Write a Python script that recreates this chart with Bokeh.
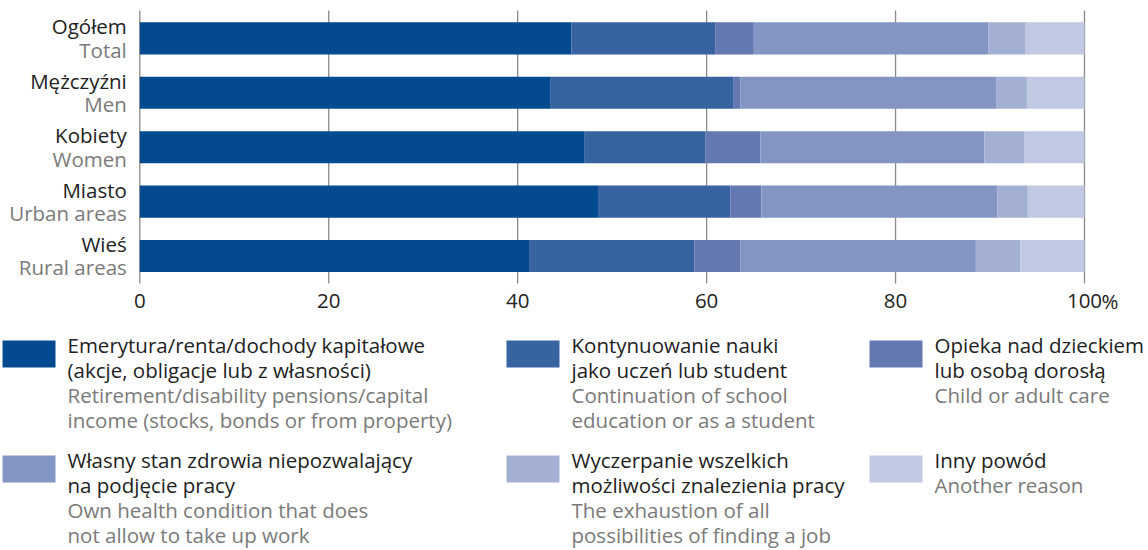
import numpy as np
from bokeh.plotting import figure
from bokeh.models import ColumnDataSource, Range1d
from bokeh.core.properties import value
from bokeh.embed import file_html
from bokeh.resources import INLINE

# ---------------- data ----------------
categories_pl = ["Ogółem", "Mężczyźni", "Kobiety", "Miasto", "Wieś"]
categories_en = ["Total", "Men", "Women", "Urban areas", "Rural areas"]

retirement = [45.7, 43.5, 47.1, 48.5, 41.2]
education = [15.2, 19.3, 12.8, 14.0, 17.5]
care = [4.1, 0.8, 5.8, 3.3, 4.9]
health = [24.8, 27.1, 23.7, 25.0, 24.9]
exhaustion = [3.9, 3.2, 4.2, 3.2, 4.7]
other = [6.3, 6.1, 6.4, 6.0, 6.8]

series_keys = ["retirement", "education", "care", "health", "exhaustion", "other"]
series_pl = [
    ["Emerytura/renta/dochody kapitałowe", "(akcje, obligacje lub z własności)"],
    ["Kontynuowanie nauki", "jako uczeń lub student"],
    ["Opieka nad dzieckiem", "lub osobą dorosłą"],
    ["Własny stan zdrowia niepozwalający", "na podjęcie pracy"],
    ["Wyczerpanie wszelkich", "możliwości znalezienia pracy"],
    ["Inny powód"],
]
series_en = [
    ["Retirement/disability pensions/capital", "income (stocks, bonds or from property)"],
    ["Continuation of school", "education or as a student"],
    ["Child or adult care"],
    ["Own health condition that does", "not allow to take up work"],
    ["The exhaustion of all", "possibilities of finding a job"],
    ["Another reason"],
]
x_ticks = [0, 20, 40, 60, 80, 100]
x_tick_labels = ["0", "20", "40", "60", "80", "100"]
x_unit = "%"

# ---------------- style / layout (pixels) ----------------
colors = ["#034a90", "#3764a0", "#6479b1", "#8396c3", "#a3b0d4", "#c1c9e2"]
FONT = "Open Sans"
FS = "20.5px"
DARK = "#222222"
GREY = "#7a7a7a"

W, H = 1148, 550
PX0, PX100 = 139.3, 1084.0          # screen x of 0 and 100
ROW0, ROWSTEP = 37.9, 54.4          # screen y of first bar centre, bar spacing
GRID_TOP, GRID_BOT = 10, 283
SHIFT = 8.0                         # baseline correction (px)
k = (PX100 - PX0) / 100.0

x_range = Range1d(-PX0 / k, (W - PX0) / k)
y_range = Range1d((H - ROW0) / ROWSTEP, -ROW0 / ROWSTEP)

p = figure(width=W, height=H, output_backend="svg", toolbar_location=None,
           x_range=x_range, y_range=y_range,
           x_axis_location=None, y_axis_location=None,
           min_border=0, min_border_left=0, min_border_right=0,
           min_border_top=0, min_border_bottom=0)
p.extra_x_ranges = {"px": Range1d(0, W)}
p.extra_y_ranges = {"py": Range1d(H, 0)}
p.outline_line_color = None
p.xgrid.visible = False
p.ygrid.visible = False
p.background_fill_color = "white"
p.border_fill_color = "white"

# grid lines (drawn first so bars cover them)
p.segment(x0=x_ticks, x1=x_ticks, y0=[GRID_TOP] * len(x_ticks),
          y1=[GRID_BOT] * len(x_ticks), y_range_name="py",
          line_color="#8a8a8a", line_width=1.3)

# bars
ypos = np.arange(len(categories_pl)).astype(float)
src = ColumnDataSource(dict(
    y=ypos, retirement=retirement, education=education, care=care,
    health=health, exhaustion=exhaustion, other=other,
))
p.hbar_stack(series_keys, y="y", height=0.59, color=colors, source=src,
             line_color=None)

# tick labels
tick_base = 308 - SHIFT
p.text(x=x_ticks, y=[tick_base] * len(x_ticks), text=x_tick_labels, y_range_name="py",
       text_align="center", text_baseline="alphabetic", text_color=DARK,
       text_font=value(FONT), text_font_size=value(FS))
p.text(x=[x_ticks[-1]], y=[tick_base], text=[x_unit], y_range_name="py", x_offset=17,
       text_align="left", text_baseline="alphabetic", text_color=DARK,
       text_font=value(FONT), text_font_size=value(FS))

# category labels
zeros = [0.0] * len(categories_pl)
sh = SHIFT / ROWSTEP
p.text(x=zeros, y=ypos - 0.072 - sh, text=categories_pl, x_offset=-13,
       text_align="right", text_baseline="alphabetic", text_color=DARK,
       text_font=value(FONT), text_font_size=value(FS))
p.text(x=zeros, y=ypos + 0.355 - sh, text=categories_en, x_offset=-13,
       text_align="right", text_baseline="alphabetic", text_color=GREY,
       text_font=value(FONT), text_font_size=value(FS))

# legend
col_x = [2, 506, 869]
row_y = [340, 455]
sw_w, sw_h = 53, 27
text_dx = 65
line_h = 25.0
first_base = 12.5 - SHIFT

ql, qr, qt, qb = [], [], [], []
tx, ty, tt, tc = [], [], [], []
for i in range(len(series_keys)):
    cx = col_x[i % 3]
    ry = row_y[i // 3]
    ql.append(cx); qr.append(cx + sw_w); qt.append(ry); qb.append(ry + sw_h)
    lines = [(s, DARK) for s in series_pl[i]] + [(s, GREY) for s in series_en[i]]
    for j, (s, c) in enumerate(lines):
        tx.append(cx + text_dx)
        ty.append(ry + first_base + j * line_h)
        tt.append(s)
        tc.append(c)

p.quad(left=ql, right=qr, top=qt, bottom=qb, color=colors, line_color=None,
       x_range_name="px", y_range_name="py")
p.text(x=tx, y=ty, text=tt, text_color=tc, x_range_name="px", y_range_name="py",
       text_font=value(FONT), text_font_size=value(FS),
       text_baseline="alphabetic", text_align="left")

open("out.html", "w").write(file_html(p, INLINE))
